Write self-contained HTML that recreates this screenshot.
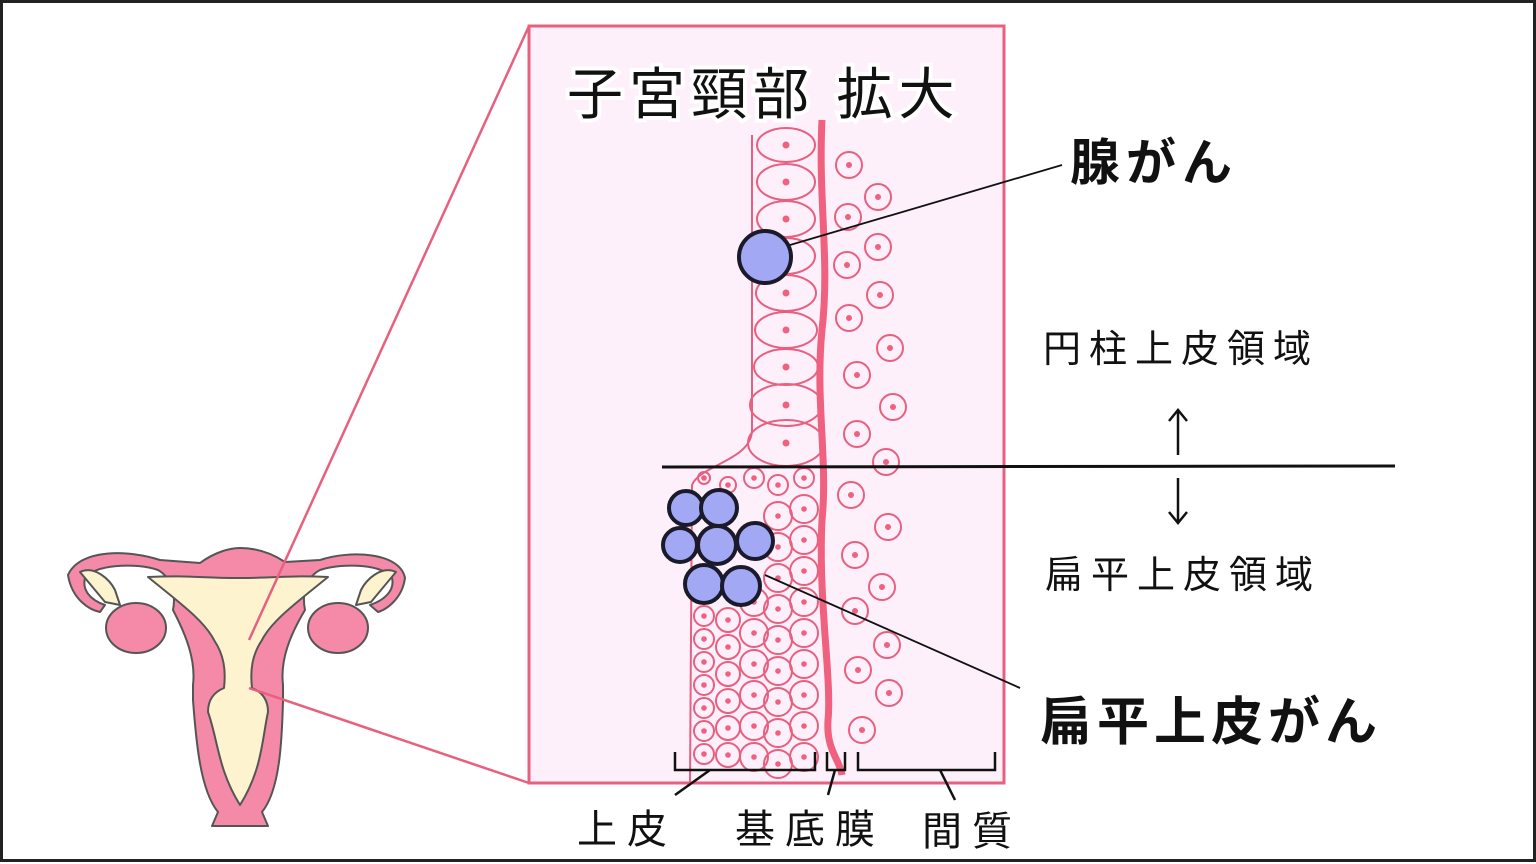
<!DOCTYPE html>
<html><head><meta charset="utf-8"><style>
html,body{margin:0;padding:0;background:#fff}
svg{display:block}
text{font-family:"Liberation Sans","Noto Sans CJK JP",sans-serif}
</style></head><body>
<svg id="s" width="1536" height="864" viewBox="0 0 1536 864" xmlns="http://www.w3.org/2000/svg">
<rect x="1.5" y="1.5" width="1533" height="859" fill="#fff" stroke="#222" stroke-width="3"/>
<g stroke="#555" stroke-width="2" stroke-linejoin="round">
<path d="M68,575 C80,548 130,550 160,560 L200,563 C215,552 230,548 240,548 C255,548 270,552 285,562 L320,560 C350,550 400,552 405,578 C402,600 385,610 378,612 L370,605 C385,600 395,590 392,578 C385,565 345,562 320,570 C305,578 302,595 305,610 C290,635 280,660 283,685 L283,700 C282,740 280,790 262,812 L268,826 L212,826 L218,812 C200,790 196,740 193,700 L193,685 C196,660 186,635 173,610 C176,595 172,578 158,570 C135,562 93,565 85,578 C82,590 90,600 105,605 L100,612 C90,610 72,600 68,575 Z" fill="#f48aa8"/>
<path d="M148,577 C190,575 200,578 240,578 C280,578 290,575 328,577 C300,600 272,620 262,640 C252,655 250,670 252,688 C262,692 268,700 268,712 C262,740 262,770 240,805 C218,770 218,740 208,712 C208,700 214,692 224,688 C226,670 224,655 214,640 C204,620 176,600 148,577 Z" fill="#fdf3cf"/>
<ellipse cx="136" cy="628" rx="30" ry="25" fill="#f48aa8"/>
<ellipse cx="338" cy="628" rx="30" ry="25" fill="#f48aa8"/>
<path d="M80,572 C95,565 110,580 115,590 L120,605 L105,602 Z" fill="#fdf3cf"/>
<path d="M396,572 C381,565 366,580 361,590 L356,605 L371,602 Z" fill="#fdf3cf"/>
</g>
<line x1="249" y1="640" x2="529" y2="26" stroke="#e8607f" stroke-width="2.5"/>
<line x1="249" y1="688" x2="529" y2="783" stroke="#e8607f" stroke-width="2.5"/>
<rect x="529" y="26" width="475" height="757" fill="#fdf0fa" stroke="#e8607f" stroke-width="3"/>
<g id="cells" fill="none" stroke="#e8607f" stroke-width="2"></g>
<path d="M752,135 L752,430 C752,460 700,465 692,485 L690,783" fill="none" stroke="#e8607f" stroke-width="2"/>
<path d="M822,120 C818,200 830,260 822,330 C815,400 828,460 822,520 C818,600 832,680 828,720 C826,750 840,760 842,775" fill="none" stroke="#f0607f" stroke-width="7"/>
<text x="567" y="114" font-size="56" fill="#111" stroke="#fff" stroke-width="8" paint-order="stroke" letter-spacing="6">子宮頸部 拡大</text>
<line x1="662" y1="467" x2="1395" y2="466" stroke="#111" stroke-width="3"/>
<g stroke="#111" stroke-width="2.5" fill="none">
<line x1="1178" y1="410" x2="1178" y2="455"/><polyline points="1169,421 1178,410 1187,421"/>
<line x1="1178" y1="478" x2="1178" y2="523"/><polyline points="1169,512 1178,523 1187,512"/>
</g>
<text x="1043" y="362" font-size="38" fill="#111" letter-spacing="8">円柱上皮領域</text>
<text x="1045" y="588" font-size="38" fill="#111" letter-spacing="8">扁平上皮領域</text>
<text x="1070" y="180" font-size="50" font-weight="bold" fill="#111" letter-spacing="6">腺がん</text>
<text x="1040" y="740" font-size="52" font-weight="bold" fill="#111" letter-spacing="5">扁平上皮がん</text>
<line x1="790" y1="245" x2="1062" y2="165" stroke="#111" stroke-width="1.8"/>
<line x1="765" y1="575" x2="1020" y2="688" stroke="#111" stroke-width="1.8"/>
<g fill="#a3a8f5" stroke="#1a1a2a" stroke-width="4">
<circle cx="765" cy="257" r="26"/>
<circle cx="686" cy="508" r="17"/><circle cx="719" cy="508" r="18"/>
<circle cx="680" cy="545" r="17"/><circle cx="717" cy="545" r="19"/><circle cx="755" cy="541" r="18"/>
<circle cx="704" cy="584" r="19"/><circle cx="741" cy="586" r="19"/>
</g>
<g stroke="#111" stroke-width="2.5" fill="none">
<polyline points="675,752 675,770 815,770 815,752"/>
<polyline points="827,752 827,770 845,770 845,752"/>
<polyline points="858,752 858,770 995,770 995,752"/>
<line x1="710" y1="770" x2="675" y2="795"/>
<line x1="835" y1="770" x2="828" y2="795"/>
<line x1="940" y1="770" x2="955" y2="800"/>
</g>
<text x="577" y="843" font-size="40" fill="#111" letter-spacing="10">上皮</text>
<text x="735" y="843" font-size="40" fill="#111" letter-spacing="10">基底膜</text>
<text x="922" y="845" font-size="40" fill="#111" letter-spacing="10">間質</text>
</svg>
<script>
var g=document.getElementById('cells'),NS='http://www.w3.org/2000/svg';
function el(t,a){var e=document.createElementNS(NS,t);for(var k in a)e.setAttribute(k,a[k]);g.appendChild(e);return e;}
function dot(x,y,r){el('circle',{cx:x,cy:y,r:r,fill:'#f0607f',stroke:'none'});}
var ys=[145,182,219,256,293,330,367,405,443],rx=[29,29,29,29,30,31,32,36,38],ry=[17,18,18,18,18,18,18,21,23];
for(var i=0;i<ys.length;i++){el('ellipse',{cx:786,cy:ys[i],rx:rx[i],ry:ry[i]});dot(786,ys[i],3.5);}
var st=[[849,165],[878,197],[848,217],[878,247],[847,265],[880,295],[849,318],[890,348],[857,375],[893,407],[857,434],[886,462],[851,495],[888,527],[855,555],[882,587],[855,611],[887,645],[858,670],[889,693],[862,730]];
st.forEach(function(p){el('circle',{cx:p[0],cy:p[1],r:13});dot(p[0],p[1],3);});
var cols=[[704,10],[728,12],[754,14],[778,14],[804,14]];
for(var c=0;c<cols.length;c++){var x=cols[c][0],r=cols[c][1];
 for(var y=478+(c%2)*7;y<775;y+=2*r+3){
  if(c<3&&y<600&&y>490&&x<760)continue;
  var rr=(y<500)?Math.max(6,r-4):r;
  el('circle',{cx:x,cy:y,r:rr});dot(x,y,2.8);}}
</script>
</body></html>
